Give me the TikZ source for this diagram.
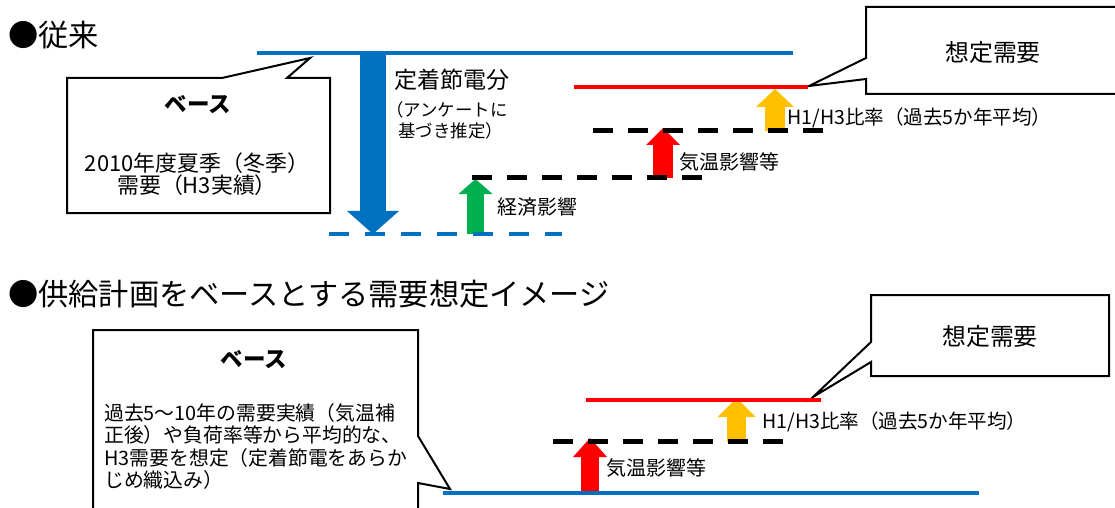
\documentclass[tikz,border=0pt]{standalone}
\usepackage{fontspec}
\setmainfont{Noto Sans CJK JP}
\usetikzlibrary{arrows.meta}

\definecolor{lineblue}{RGB}{0,112,192}
\definecolor{linered}{RGB}{255,0,0}
\definecolor{arrorange}{RGB}{255,192,0}
\definecolor{arrgreen}{RGB}{0,176,80}

\tikzset{
  headtext/.style={anchor=west,inner sep=0pt,font=\fontsize{21.5}{24}\selectfont},
  basehead/.style={inner sep=0pt,font=\fontsize{16}{18}\selectfont\bfseries},
  demandtext/.style={inner sep=0pt,font=\fontsize{17}{20}\selectfont},
  notetext/.style={anchor=west,inner sep=0pt,font=\fontsize{14.2}{16}\selectfont},
  ratiotext/.style={anchor=west,inner sep=0pt,font=\fontsize{13.9}{16}\selectfont},
  levelline/.style={line width=1mm},
  dashline/.style={line width=1.25mm,dash pattern=on 5mm off 3.75mm},
  callout/.style={draw=black,line width=0.5mm,fill=white,line join=miter},
  blockarrow/.style n args={4}{draw=#1,line width=#2,
    -{Triangle[width=#3,length=#4,line width=0pt]}}
}

\begin{document}
\begin{tikzpicture}[x=0.25mm,y=-0.25mm]
  \useasboundingbox (0,0) rectangle (1115,508);

  % ---------- upper panel
  \node[headtext] (oldtitle) at (8,35) {●従来};

  \draw[callout] (67,78) -- (222,78) -- (310,58) -- (287,78) -- (330,78)
    -- (330,213) -- (67,213) -- cycle;
  \node[basehead] (oldbase) at (198,105) {ベース};
  \node[inner sep=0pt,align=center,font=\fontsize{15.6}{15.6}\selectfont]
    (oldbasetext) at (197,174) {2010年度夏季（冬季）\\需要（H3実績）};

  \draw[callout] (866,7) -- (1125,7) -- (1125,94) -- (866,94) -- (866,79)
    -- (809,86) -- (866,58) -- cycle;
  \node[demandtext] (olddemand) at (993,52) {想定需要};

  \coordinate (savetop) at (373,55);
  \coordinate (savebot) at (373,234);
  \coordinate (econbot) at (475.5,234);
  \coordinate (econtop) at (475.5,179);
  \coordinate (tempbot) at (663,178);
  \coordinate (temptop) at (663,128);
  \coordinate (ratiobot) at (775,131);
  \coordinate (ratiotop) at (775,89);
  \draw[blockarrow={lineblue}{6.5mm}{13mm}{5.75mm}] (savetop) -- (savebot);
  \draw[blockarrow={arrgreen}{4.25mm}{8.5mm}{3.75mm}] (econbot) -- (econtop);
  \draw[blockarrow={linered}{5mm}{8.5mm}{4.25mm}] (tempbot) -- (temptop);
  \draw[blockarrow={arrorange}{5mm}{9.5mm}{4.5mm}] (ratiobot) -- (ratiotop);

  \draw[levelline,lineblue] (257,53) -- (793,53);
  \draw[dashline,lineblue,line width=1mm,dash pattern=on 5mm off 4mm] (329,234) -- (562,234);
  \draw[dashline] (472,178) -- (705,178);
  \draw[dashline] (593,131) -- (827,131);
  \draw[levelline,linered] (574,87) -- (808,87);

  \node[anchor=west,inner sep=0pt,font=\fontsize{16.4}{18}\selectfont]
    (saving) at (394,80) {定着節電分};
  \node[anchor=west,inner sep=0pt,font=\fontsize{12.4}{14}\selectfont]
    (survey) at (386,110) {（アンケートに};
  \node[anchor=west,inner sep=0pt,font=\fontsize{12.4}{14}\selectfont]
    (estimate) at (398,131) {基づき推定）};
  \node[notetext] (econ) at (497,207) {経済影響};
  \node[notetext] (oldtemp) at (679,162) {気温影響等};
  \node[ratiotext] (oldratio) at (787,118) {H1/H3比率（過去5か年平均）};

  % ---------- lower panel
  \node[headtext] (newtitle) at (8,294) {●供給計画をベースとする需要想定イメージ};

  \draw[callout] (93,330) -- (418,330) -- (418,436) -- (450,489) -- (418,483)
    -- (418,520) -- (93,520) -- cycle;
  \node[basehead] (newbase) at (254,360) {ベース};
  \node[anchor=west,inner sep=0pt,align=left,font=\fontsize{14.1}{16}\selectfont]
    (newbasetext) at (104,446.5)
    {過去5〜10年の需要実績（気温補\\正後）や負荷率等から平均的な、\\H3需要を想定（定着節電をあらか\\じめ織込み）};

  \draw[callout] (871,295) -- (1109,295) -- (1109,376) -- (871,376) -- (871,362)
    -- (813,397) -- (871,342) -- cycle;
  \node[demandtext] (newdemand) at (990,336) {想定需要};

  \coordinate (ntempbot) at (590,493);
  \coordinate (ntemptop) at (590,438);
  \coordinate (nratiobot) at (736.5,442);
  \coordinate (nratiotop) at (736.5,398);
  \draw[blockarrow={linered}{4.5mm}{8.5mm}{4.75mm}] (ntempbot) -- (ntemptop);
  \draw[blockarrow={arrorange}{4.75mm}{9.5mm}{4.75mm}] (nratiobot) -- (nratiotop);

  \draw[levelline,lineblue] (443,493) -- (979,493);
  \draw[dashline] (553,441) -- (785,441);
  \draw[levelline,linered] (586,400) -- (821,400);

  \node[notetext] (newtemp) at (606,468) {気温影響等};
  \node[ratiotext] (newratio) at (762,422) {H1/H3比率（過去5か年平均）};
\end{tikzpicture}
\end{document}
